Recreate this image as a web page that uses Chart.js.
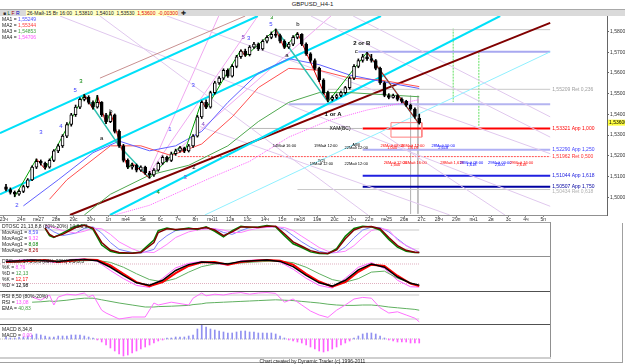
<!DOCTYPE html>
<html><head><meta charset="utf-8">
<script src="https://cdn.jsdelivr.net/npm/chart.js"></script>
<style>
html,body{margin:0;padding:0;background:#fff;}
body{width:625px;height:364px;position:relative;overflow:hidden;font-family:Arial,"Liberation Sans",sans-serif;}
.box{position:absolute;}
canvas{position:absolute;left:0;}
.t{position:absolute;font-size:5px;line-height:6px;white-space:pre;color:#222;}
</style></head><body>
<div class="box" style="left:0;top:0;width:625px;height:9px;border-bottom:1px solid #a8a8a8"></div>
<div class="t" style="left:0;width:625px;top:1px;text-align:center;font-size:6px;">GBPUSD_H4-1</div>
<div class="box" style="left:0;top:10px;width:625px;height:6px;background:#dadada"></div>
<div class="t" style="left:3px;top:10px"><span style="color:#333">■</span> <span style="color:#006000">L</span> <span style="color:#a00000">F</span> <span style="color:#0000c0">R</span></div>
<div class="box" style="left:26px;top:10px;width:152px;height:6px;background:#ffffc4"></div>
<div class="t" style="left:27px;top:10px">26-Май-15 Вт 16:00  1,53810  1,54010  1,53530  <span style="color:#e00000">1,53600  -0,00300</span></div>
<div class="t" style="left:181px;top:10px;font-size:6px">✚</div>

<canvas id="main" width="625" height="207" style="top:16px"></canvas>
<canvas id="osc" width="550" height="33" style="top:223px"></canvas>
<canvas id="sto" width="550" height="34" style="top:257px"></canvas>
<canvas id="rsi" width="550" height="32" style="top:292px"></canvas>
<canvas id="macd" width="550" height="32" style="top:325px"></canvas>

<div class="box" style="left:0;top:222px;width:551px;height:1px;background:#a0a0a0"></div>
<div class="box" style="left:0;top:256px;width:551px;height:1px;background:#909090"></div>
<div class="box" style="left:0;top:291px;width:551px;height:1px;background:#505050"></div>
<div class="box" style="left:0;top:324px;width:551px;height:1px;background:#505050"></div>
<div class="box" style="left:550px;top:222px;width:1px;height:136px;background:#909090"></div>
<div class="box" style="left:0;top:357px;width:551px;height:2px;background:#cfcfcf"></div>
<div class="box" style="left:622px;top:223px;width:1px;height:140px;background:#a0a0a0"></div>
<div class="box" style="left:0;top:362px;width:623px;height:1px;background:#a0a0a0"></div>

<div class="t" style="left:2px;top:16px">MA1 = <span style="color:#5050ff">1,55249</span>
MA2 = <span style="color:#ff4040">1,55344</span>
MA3 = <span style="color:#40a040">1,54853</span>
MA4 = <span style="color:#ff50ff">1,54706</span></div>

<div class="t" style="left:2px;top:223px">DTOSC 21,13,8,8 (80%-20%) 14,8,5,3
MovAvg1 = <span style="color:#5050ff">8,59</span>
MovAvg2 = <span style="color:#ff50ff">9,32</span>
MovAvg1 = <span style="color:#008000">8,08</span>
MovAvg2 = <span style="color:#a00000">8,26</span></div>
<div class="t" style="left:2px;top:258px">DTStoch 14,5,3,3 (80%-20%) 8,5,3,3
%K = <span style="color:#ff50ff">8,76</span>
%D = <span style="color:#40a040">12,13</span>
%K = <span style="color:#ff0000">12,17</span>
%D = <span style="color:#000">12,98</span></div>
<div class="t" style="left:2px;top:293px">RSI 8,50 (80%-20%)
RSI = <span style="color:#ff50ff">13,08</span>
EMA = <span style="color:#40a040">40,83</span></div>
<div class="t" style="left:2px;top:326px">MACD 8,34,8
MACD = <span style="color:#ff50ff">0,00</span></div>
<div class="t" style="left:0;width:625px;top:358px;text-align:center">Chart created by Dynamic Trader (c) 1996-2011</div>

<script>
// GBPUSD bars (one per quarter day)
let opens = [1.5050,1.5037,1.5023,1.5014,1.5028,1.5051,1.5084,1.5145,1.5173,1.5164,
  1.5145,1.5178,1.5224,1.5248,1.5295,1.5351,1.5398,1.5435,1.5472,1.5482,
  1.5458,1.5435,1.5458,1.5398,1.5365,1.5398,1.5318,1.5248,1.5178,1.5145,
  1.5154,1.5131,1.5145,1.5117,1.5107,1.5131,1.5164,1.5192,1.5178,1.5210,
  1.5224,1.5238,1.5224,1.5248,1.5295,1.5388,1.5458,1.5435,1.5505,1.5552,
  1.5575,1.5613,1.5585,1.5632,1.5678,1.5706,1.5688,1.5725,1.5739,1.5716,
  1.5753,1.5772,1.5786,1.5781,1.5753,1.5725,1.5739,1.5772,1.5786,1.5739,
  1.5692,1.5660,1.5622,1.5566,1.5505,1.5472,1.5482,1.5491,1.5505,1.5529,
  1.5575,1.5632,1.5660,1.5678,1.5669,1.5660,1.5622,1.5552,1.5491,1.5482,
  1.5491,1.5472,1.5463,1.5444,1.5426,1.5381];
let highs = [1.5062,1.5045,1.5030,1.5035,1.5058,1.5090,1.5152,1.5185,1.5180,1.5170,
  1.5185,1.5230,1.5256,1.5302,1.5360,1.5405,1.5445,1.5480,1.5496,1.5490,
  1.5465,1.5492,1.5462,1.5405,1.5412,1.5402,1.5325,1.5255,1.5185,1.5165,
  1.5160,1.5152,1.5150,1.5125,1.5138,1.5170,1.5200,1.5198,1.5218,1.5232,
  1.5245,1.5242,1.5255,1.5302,1.5395,1.5465,1.5470,1.5512,1.5560,1.5582,
  1.5620,1.5620,1.5640,1.5685,1.5712,1.5715,1.5732,1.5748,1.5745,1.5760,
  1.5780,1.5798,1.5812,1.5788,1.5760,1.5748,1.5780,1.5795,1.5790,1.5745,
  1.5698,1.5668,1.5628,1.5572,1.5512,1.5490,1.5498,1.5512,1.5535,1.5582,
  1.5640,1.5668,1.5690,1.5700,1.5690,1.5665,1.5628,1.5558,1.5500,1.5498,
  1.5495,1.5480,1.5468,1.5450,1.5432,1.5401];
let lows = [1.5030,1.5015,1.5002,1.5008,1.5022,1.5045,1.5080,1.5138,1.5155,1.5135,
  1.5140,1.5172,1.5215,1.5240,1.5288,1.5343,1.5390,1.5428,1.5465,1.5450,
  1.5425,1.5430,1.5390,1.5355,1.5360,1.5310,1.5240,1.5170,1.5138,1.5135,
  1.5122,1.5125,1.5110,1.5092,1.5100,1.5125,1.5158,1.5170,1.5172,1.5202,
  1.5218,1.5215,1.5218,1.5240,1.5290,1.5380,1.5428,1.5430,1.5498,1.5545,
  1.5568,1.5578,1.5580,1.5625,1.5670,1.5680,1.5682,1.5718,1.5708,1.5710,
  1.5745,1.5765,1.5772,1.5745,1.5718,1.5718,1.5732,1.5765,1.5732,1.5685,
  1.5652,1.5615,1.5558,1.5498,1.5460,1.5465,1.5475,1.5485,1.5498,1.5522,
  1.5568,1.5625,1.5652,1.5660,1.5652,1.5615,1.5545,1.5485,1.5475,1.5478,
  1.5465,1.5455,1.5438,1.5420,1.5382,1.5353];
let closes = [1.5037,1.5023,1.5014,1.5028,1.5051,1.5084,1.5145,1.5173,1.5164,1.5145,
  1.5178,1.5224,1.5248,1.5295,1.5351,1.5398,1.5435,1.5472,1.5482,1.5458,
  1.5435,1.5458,1.5398,1.5365,1.5398,1.5318,1.5248,1.5178,1.5145,1.5154,
  1.5131,1.5145,1.5117,1.5107,1.5131,1.5164,1.5192,1.5178,1.5210,1.5224,
  1.5238,1.5224,1.5248,1.5295,1.5388,1.5458,1.5435,1.5505,1.5552,1.5575,
  1.5613,1.5585,1.5632,1.5678,1.5706,1.5688,1.5725,1.5739,1.5716,1.5753,
  1.5772,1.5786,1.5781,1.5753,1.5725,1.5739,1.5772,1.5786,1.5739,1.5692,
  1.5660,1.5622,1.5566,1.5505,1.5472,1.5482,1.5491,1.5505,1.5529,1.5575,
  1.5632,1.5660,1.5678,1.5669,1.5660,1.5622,1.5552,1.5491,1.5482,1.5491,
  1.5472,1.5463,1.5444,1.5426,1.5390,1.5360];

let dayLabels = ["23ч","24п","пн27","28в","29с","30ч","1п","пн4","5в","6с","7ч","8п","пн11","12в","13с","14ч",
  "15п","пн18","19в","20с","21ч","22п","пн25","26в","27с","28ч","29п","пн1","2в","3с","4ч","5п"];
let priceTicks = [1.50, 1.51, 1.52, 1.53, 1.54, 1.55, 1.56, 1.57, 1.58];
let lastPrice = 1.5360;

// moving averages (sampled)
let maX  = [4, 12, 20, 26, 33, 39, 45, 51, 58, 65, 72, 79, 86, 95];
let ma1 = [1.4958,1.5084,1.5215,1.5271,1.5224,1.5248,1.5318,1.5458,1.5599,1.5669,1.5640,1.5590,1.5560,1.5525];
let ma2X = [10, 14, 24, 31, 38, 45, 52, 58, 65, 72, 79, 86, 95];
let ma2 = [1.4990,1.5084,1.5248,1.5248,1.5201,1.5257,1.5388,1.5529,1.5622,1.5613,1.5575,1.5566,1.5534];
let ma3X = [18, 24, 33, 42, 51, 58, 65, 72, 79, 86, 95];
let ma3 = [1.4914,1.5014,1.5107,1.5154,1.5248,1.5365,1.5458,1.5505,1.5505,1.5496,1.5485];
let ma4X = [25, 33, 47, 56, 65, 74, 83, 95];
let ma4 = [1.4914,1.4961,1.5093,1.5173,1.5290,1.5369,1.5421,1.5471];

// swing zigzag and wave lines
let swingX = [2,7,9,18,20,21,23,24,28,29,33,40,41,45,46,54,55,62,64,67,74,83,95];
let swingY = [1.5002,1.5185,1.5135,1.5496,1.5425,1.5492,1.5355,1.5412,1.5138,1.5165,1.5092,1.5245,1.5215,
  1.5465,1.5428,1.5712,1.5680,1.5812,1.5718,1.5795,1.5460,1.5700,1.5353];
let waveA = [[18,1.5496],[26,1.5248],[33,1.5092]];
let waveB = [[62,1.5812],[74,1.5460]];
let waveC = [[83,1.5700],[95,1.5353]];

// trend / channel lines [x0, p0, x1, p1]
let cyanLines = [[-1.38,1.5309,57.9,1.5875],[-1.38,1.5014,86.2,1.5875],[23.9,1.4914,113.6,1.5875]];
let maroonLine = [14.7,1.4914,125.1,1.5842];
let paleCyanLine = [45.7,1.4914,125.1,1.5702];
let rosyLine = [21.6,1.5575,55,1.5875];
let violetLines = [[79.8,1.5875,125.1,1.5388],[70.1,1.5875,125.1,1.5290],[12.4,1.5875,125.1,1.4956],
  [21.6,1.5875,83.2,1.4914],[37,1.5875,125.1,1.5210],[86,1.5313,114.7,1.4914],[44.6,1.5341,102,1.4914]];
let fanLines = [[32.4,1.5098,57.9,1.5875],[32.4,1.5098,48.9,1.5875],[32.4,1.5098,74.7,1.5875]];

// price levels
let levelPrices = [1.5809, 1.5702, 1.5521, 1.5449, 1.5332, 1.5332, 1.5229, 1.5196, 1.5104, 1.5051, 1.5037];
let levelFrom   = [62, 81, 74, 65, 56, 82, 82, 39.5, 82, 82, 67];
let levelTo     = [125.1, 125.1, 125.1, 125.1, 82, 125.1, 125.1, 125.1, 125.1, 125.1, 125.1];
let levelTexts  = ["", "", "1,55209 Ret 0,236", "", "", "1,53321 App 1,000", "1,52290 App 1,250",
  "1,51962 Ret 0,500", "1,51044 App 1,618", "1,50507 App 1,750", "1,50434 Ret 0,618"];

let vLines = [[93,1.5490,1.4920],[94.7,1.5490,1.4920]];
let greenVLines = [[102.8,1.5814,1.5460],[108.7,1.5702,1.5341]];
let boxX = [88.5, 95.6];
let boxP = [1.5360, 1.5290];

let waveLabels = [["3",17.2,1.5561,"#008000"],["5",15.9,1.5515,"#4040ff"],["3",8,1.5313,"#4040ff"],
  ["b",24.1,1.5416,"#000"],["a",22,1.5285,"#000"],["4",12.6,1.5340,"#4040ff"],["2",2.5,1.4960,"#4040ff"],
  ["4",35,1.5023,"#008000"],["1",37.7,1.5327,"#4040ff"],["2",43.2,1.5145,"#000"],["3",41.2,1.5098,"#8040c0"],
  ["3",43,1.5538,"#4040ff"],["4",45.3,1.5351,"#8040c0"],["5",54.5,1.5772,"#8040c0"],["3",55.8,1.5767,"#4040ff"],
  ["3",61.1,1.5868,"#008000"],["5",60.9,1.5837,"#4040ff"],["b",67.1,1.5833,"#000"],["a",64.6,1.5683,"#000"],
  ["c",80.5,1.5706,"#000"]];
let boldLabels = [["2 or B",81.8,1.5744],["1 or A",75.2,1.5402]];
let timeNotes = [[64,1.5246,"14Май 16:00","#000"],[73.5,1.5246,"19Май 12:00","#000"],
  [80.5,1.5252,"A(B)","#000"],[80.5,1.5238,"22Май 12:00","#000"],
  [88.8,1.5248,"26Май 08:00","#f00"],[88.8,1.5236,"1,000","#f00"],
  [93.5,1.5248,"26Май 12:00","#f00"],[93.5,1.5236,"1,618","#f00"],
  [100.5,1.5248,"28Май 00:00","#00f"],[100.5,1.5236,"2,618","#00f"],
  [72.5,1.5174,"T(2)","#000"],[72.5,1.5162,"19Май 12:00","#000"],[80.5,1.5162,"22Май 12:00","#000"],
  [89.5,1.5168,"26Май 12:00","#f00"],[89.5,1.5156,"1,000","#f00"],[94,1.5168,"26Май 16:00","#f00"],
  [102.5,1.5168,"28Май 1,618","#f00"],[107,1.5168,"28Май 08:00","#00f"],[107,1.5156,"1,618","#00f"],
  [113.5,1.5168,"29Май 00:00","#00f"],[113.5,1.5156,"2,000","#00f"],[118.5,1.5168,"29Май 16:00","#f00"],
  [118.5,1.5156,"2,618","#f00"]];

// indicators
let oscX = [9,10,11,13,16,18,20,22,24,26,29,31,34,35,37,39,42,44,46,48,50,52,54,56,58,60,62,64,66,68,70,72,74,76,78,80,82,84,86,88,90,92,94,95];
let oscGreen = [85,62,56,70,92,96,82,32,12,6,6,10,48,78,86,80,86,82,90,76,58,78,92,88,90,94,90,62,36,24,10,5,4,20,60,85,92,90,80,50,25,12,8,8];
let oscRed   = [86,66,58,66,88,95,86,40,16,8,6,8,40,72,84,82,84,84,88,80,62,74,90,90,88,92,92,68,42,28,14,7,5,16,52,80,90,91,84,56,30,15,9,8];
let oscBlue  = [90,84,74,62,70,85,90,70,40,18,8,6,18,40,62,78,82,83,85,84,72,66,78,88,89,90,91,82,62,42,25,12,6,8,26,55,80,89,88,74,52,30,16,9];
let oscPink  = [94,92,88,78,70,76,86,84,66,42,20,10,8,16,34,56,74,80,83,84,80,72,72,80,86,88,90,88,78,60,42,24,12,8,12,30,56,78,86,80,48,30,16,9];

let stoX = [0,3,6,9,12,15,18,21,24,27,30,33,36,39,42,45,48,51,54,57,60,63,66,69,72,75,78,81,84,87,90,93,95];
let stoBlack = [88,90,92,90,88,92,94,90,70,45,22,15,30,60,78,86,84,80,88,90,92,88,72,45,22,12,30,62,80,70,40,21,15];
let stoRed   = [86,88,90,92,86,90,94,92,76,50,24,12,24,52,74,85,86,78,86,90,92,90,78,50,26,10,24,56,78,74,44,20,12];
let stoGreen = [85,86,88,90,89,88,90,91,85,70,50,32,25,35,55,72,80,82,83,86,88,89,84,70,50,32,24,35,55,58,36,22,14];
let stoPink  = [90,92,94,88,84,94,96,88,60,35,14,8,36,68,82,88,82,76,90,92,94,86,64,36,14,6,36,70,84,66,30,10,9];

let rsiX = [6,8,10,11,12,14,16,18,19,20,22,23,26,29,32,34,35,38,42,43,45,46,48,50,52,54,56,58,60,62,64,66,68,70,72,74,76,78,80,82,84,86,88,90,92,94,95];
let rsiVals = [75,67,80,55,75,82,80,85,75,80,42,35,20,25,25,60,55,62,55,72,85,78,82,80,84,86,82,85,86,84,62,70,55,40,30,24,42,55,70,74,72,48,35,38,30,22,13];
let rsiEma  = [62,63,65,64,65,67,70,72,72,72,68,66,60,55,50,50,51,52,54,56,58,60,61,62,63,64,65,66,67,68,67,66,64,62,60,57,55,54,54,55,55,53,50,48,46,44,42];

// MACD histogram, in units of 0.0001
let macdHist = [2,1,1,2,2,3,4,5,4,3, 2,2,3,3,3,4,4,4,3,2, 1,-1,-3,-6,-9,-12,-15,-17,-16,-14,
  -12,-10,-8,-6,-4,-2,-1,1,1,2, 2,2,3,4,10,14,12,10,9,8, 7,6,6,7,8,8,7,7,6,6,
  6,6,5,3,1,-1,-2,-3,-4,-6, -8,-10,-12,-13,-12,-10,-8,-6,-4,-2, 1,3,5,6,6,5,3,1,-1,-2,
  -3,-3,-3,-4,-4,-4];

Chart.defaults.font.family = 'Arial, "Liberation Sans", sans-serif';

const xMin = -1.38;

function seg(s, color, width, dash) {
  return {type: 'line', data: [{x: s[0], y: s[1]}, {x: s[2], y: s[3]}], borderColor: color,
    borderWidth: width, borderDash: dash || [], pointRadius: 0, order: 5};
}
function path(xs, ys, color, width, dash, order) {
  return {type: 'line', data: xs.map((x, k) => ({x: x, y: ys[k]})), borderColor: color,
    borderWidth: width, borderDash: dash || [], pointRadius: 0, order: order || 4};
}

let levelStyles = [["#c8c8c8",1],["#a8a8f0",2],["#c8c8c8",1],["#b4b4f0",2],["#b8b8b8",1],["#ff0000",2],
  ["#b0b0f4",2],["#ff5050",1,[2,1]],["#2020e0",2],["#0000a0",2],["#c8c8c8",1]];
let labelColors = ["","","#a0a0a0","","","#ff0000","#4040ff","#ff3030","#2020e0","#0000a0","#b0b0b0"];

let ds = [];
ds.push({type: 'bar', data: closes.map((c, i) => ({x: i, y: [opens[i], c]})),
  backgroundColor: closes.map((c, i) => c >= opens[i] ? '#ffffff' : '#000000'),
  borderColor: '#000', borderWidth: 1, borderSkipped: false, barThickness: 3, grouped: false, order: 0});
ds.push({type: 'bar', data: highs.map((h, i) => ({x: i, y: [lows[i], h]})),
  backgroundColor: '#000', borderWidth: 0, barThickness: 1, grouped: false, order: 1});

cyanLines.forEach(s => ds.push(seg(s, '#00e0f8', 2)));
ds.push(seg(maroonLine, '#800000', 2));
ds.push(seg(paleCyanLine, '#90f0ff', 1));
ds.push(seg(rosyLine, '#c89090', 1));
violetLines.forEach(s => ds.push(seg(s, '#e0c8ee', 1)));
fanLines.forEach(s => ds.push(seg(s, '#f0a8f0', 1)));
levelPrices.forEach((p, k) => ds.push(seg([levelFrom[k], p, levelTo[k], p], levelStyles[k][0], levelStyles[k][1], levelStyles[k][2])));
vLines.forEach(v => ds.push(seg([v[0], v[1], v[0], v[2]], '#b8b8b8', 1)));
greenVLines.forEach(v => ds.push(seg([v[0], v[1], v[0], v[2]], '#60e060', 1, [2, 1])));
ds.push(path([boxX[0], boxX[1], boxX[1], boxX[0], boxX[0]], [boxP[0], boxP[0], boxP[1], boxP[1], boxP[0]], '#ff8080', 1));

ds.push(path(maX, ma1, '#6060ff', 1));
ds.push(path(ma2X, ma2, '#ff5050', 1));
ds.push(path(ma3X, ma3, '#50a850', 1));
ds.push(path(ma4X, ma4, '#ff60ff', 1, [1, 1]));

[waveA, waveB, waveC].forEach(w => ds.push(path(w.map(p => p[0]), w.map(p => p[1]), '#30c0b0', 1.5, [], 3)));
let zig = path(swingX, swingY, '#008000', 1, [], 2);
zig.segment = {borderColor: c => c.p1.parsed.y > c.p0.parsed.y ? '#00a000' : '#e00000'};
ds.push(zig);

const notes = {
  id: 'notes',
  afterDatasetsDraw(chart) {
    const ctx = chart.ctx, x = chart.scales.x, y = chart.scales.y;
    ctx.save();
    ctx.textBaseline = 'middle';
    ctx.font = '5px Arial';
    levelTexts.forEach((t, k) => {
      if (!t) return;
      ctx.fillStyle = labelColors[k];
      ctx.fillText(t, x.getPixelForValue(levelTo[k]) + 2, y.getPixelForValue(levelPrices[k]) + (k === 10 ? 2 : 0));
    });
    ctx.textAlign = 'center';
    ctx.font = '6px Arial';
    waveLabels.forEach(w => {
      ctx.fillStyle = w[3];
      ctx.fillText(w[0], x.getPixelForValue(w[1]), y.getPixelForValue(w[2]));
    });
    ctx.font = 'bold 6px Arial';
    ctx.fillStyle = '#000';
    boldLabels.forEach(w => ctx.fillText(w[0], x.getPixelForValue(w[1]), y.getPixelForValue(w[2])));
    ctx.font = '5px Arial';
    ctx.fillText('XAM(BC)', x.getPixelForValue(76.8), y.getPixelForValue(1.5332));
    ctx.font = '4px Arial';
    timeNotes.forEach(n => {
      ctx.fillStyle = n[3];
      ctx.fillText(n[2], x.getPixelForValue(n[0]), y.getPixelForValue(n[1]));
    });
    ctx.restore();
  },
  afterDraw(chart) {
    const ctx = chart.ctx, y = chart.scales.y;
    const py = y.getPixelForValue(lastPrice);
    ctx.save();
    ctx.fillStyle = '#ffff40';
    ctx.fillRect(chart.chartArea.right + 1, py - 3, 18, 6);
    ctx.fillStyle = '#000';
    ctx.font = '5px Arial';
    ctx.textBaseline = 'middle';
    ctx.fillText(lastPrice.toFixed(5).replace('.', ','), chart.chartArea.right + 2, py);
    ctx.restore();
  }
};

new Chart(document.getElementById('main'), {
  type: 'bar',
  data: {datasets: ds},
  plugins: [notes],
  options: {
    responsive: false, animation: false, devicePixelRatio: 1, events: [],
    layout: {padding: 0},
    plugins: {legend: {display: false}, tooltip: {enabled: false}},
    scales: {
      x: {type: 'linear', offset: false, min: xMin, max: 138.16,
        afterBuildTicks: s => { s.ticks = dayLabels.map((t, k) => ({value: 4 * k - 0.5})); },
        afterFit: s => { s.height = 8; s.paddingLeft = 0; s.paddingRight = 0; },
        ticks: {autoSkip: false, maxRotation: 0, padding: 0, color: '#333', font: {size: 5},
          callback: (v, i) => dayLabels[i]},
        grid: {drawOnChartArea: false, tickLength: 2, color: '#888', offset: false},
        border: {color: '#909090'}},
      y: {position: 'right', min: 1.4914, max: 1.5875,
        afterBuildTicks: s => { s.ticks = priceTicks.map(v => ({value: v})); },
        afterFit: s => { s.width = 18; s.paddingTop = 0; s.paddingBottom = 0; },
        ticks: {padding: 1, color: '#333', font: {size: 5},
          callback: v => v.toFixed(5).replace('.', ',')},
        grid: {drawOnChartArea: false, tickLength: 2, color: '#666'},
        border: {color: '#666'}}
    }
  }
});

function panel(id, min, max, sets) {
  new Chart(document.getElementById(id), {
    type: 'line',
    data: {datasets: sets},
    options: {
      responsive: false, animation: false, devicePixelRatio: 1, events: [],
      layout: {padding: 0},
      plugins: {legend: {display: false}, tooltip: {enabled: false}},
      scales: {x: {type: 'linear', offset: false, display: false, min: xMin, max: 125.06},
               y: {display: false, min: min, max: max}}
    }
  });
}
function level(v, color, dash) { return path([xMin, 95], [v, v], color, 1, dash, 9); }

panel('osc', -3.2, 102.4, [
  level(80, '#c8c8c8'), level(20, '#e0e0e0'),
  path(oscX, oscPink, '#ff80ff', 1), path(oscX, oscBlue, '#8080ff', 1),
  path(oscX, oscGreen, '#008000', 1.5, [], 2), path(oscX, oscRed, '#800000', 1.5, [], 1)]);
panel('sto', -3.1, 101.5, [
  level(80, '#e0b0c0', [1, 1]), level(20, '#e0b0c0', [1, 1]),
  path(stoX, stoGreen, '#60b060', 1), path(stoX, stoPink, '#ff60ff', 1),
  path(stoX, stoRed, '#ff0000', 2, [], 2), path(stoX, stoBlack, '#000000', 1.5, [], 1)]);
panel('rsi', 7.5, 87.5, [
  level(80, '#c8c8c8'), level(20, '#c8c8c8'),
  path(rsiX, rsiEma, '#60b060', 1), path(rsiX, rsiVals, '#ff70ff', 1, [], 1)]);
panel('macd', -18, 14, [
  level(0, '#c0c0c0', [1, 1]),
  {type: 'bar', data: macdHist.map((v, i) => ({x: i, y: v})),
   backgroundColor: macdHist.map(v => v >= 0 ? '#9090f0' : '#ff60ff'),
   barThickness: 1, grouped: false, order: 1}]);
</script>
</body></html>
